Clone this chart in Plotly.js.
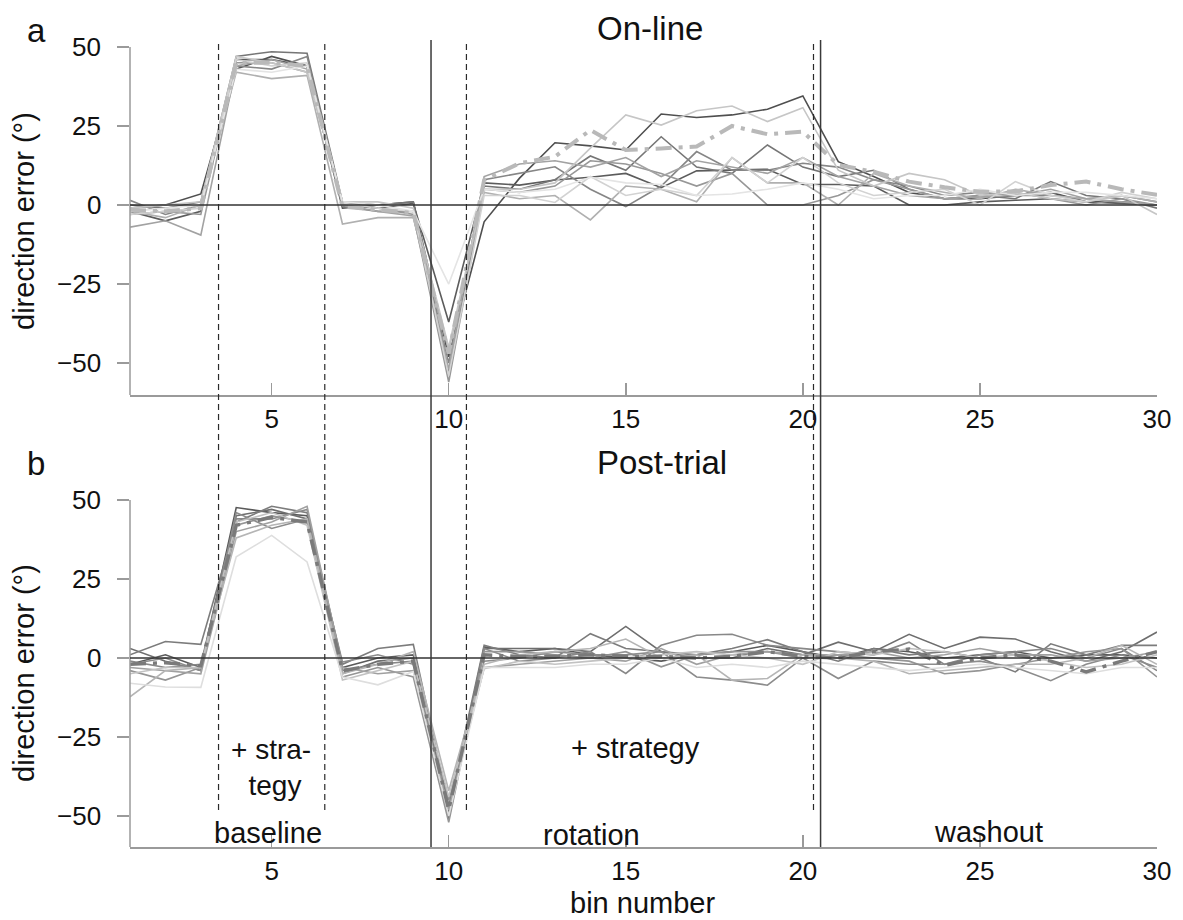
<!DOCTYPE html>
<html><head><meta charset="utf-8">
<script src="https://cdn.plot.ly/plotly-3.0.1.min.js"></script>
<style>html,body{margin:0;padding:0;background:#fff}#chart{width:1183px;height:920px}</style>
</head><body><div id="chart"></div>
<script>
const bins = [1,2,3,4,5,6,7,8,9,10,11,12,13,14,15,16,17,18,19,20,21,22,23,24,25,26,27,28,29,30];

// Panel a: On-line (individual participants + mean)
const onlineS1  = [-1,0,3.5,43,47,44,-1,0,1,-48, -5.3,8.5,19.7,18.7,17.4,28.8,27.7,28.5,30.3,34.5, 13.7,9,4,2,2,3,4,1,1,0];
const onlineS2  = [-2,-5,-2,46,46,44,0,-1,0.5,-37, 7,6.3,7.9,8.8,10,5.5,10.8,11.1,11.3,6.5, 6.5,6,0,0,1,1.5,2,1,0.5,0];
const onlineS3  = [0,-1,1,47,48.5,48,1,0,1,-53, 6,5,8,15.5,11,21.6,12,10,19,12, 9,11,5,2,3,2,7.4,3,2,-1];
const onlineS4  = [1.5,-3,0,44,43,47,-0.5,-2,-2,-50, 8,10,12.1,5,-0.5,6,16.9,11,11,13.2, 12,8,6,3,4,3,3,2,3,1];
const onlineS5  = [-3,-2,-3,45,45,42,1,-1,-3,-56, 5,4,6,14,13,10,6,10,0,0, 3,8,5,2,3,4,2,0,2,0];
const onlineS6  = [-2,-4,0,42,40,41,-6,-4,-4,-46, 4,2,3,-4.7,6,5,1,15,7,7, 0,10,6,4,2,5,3,2,3,1];
const onlineS7  = [-7,-5,-9.5,44,46,43,0,-2,-3.5,-52, 9,13,14,12,15,9,14,12,10,15, 9,6,3,2,2.5,3,5,2,1,0];
const onlineS8  = [-1,0,1,47,45,42,1,1,-1,-45, 5,5,7,18,28.5,25.3,29.8,31.3,26.4,30.8, 11,6,10,8,3,4,2,1,3,-3];
const onlineS9  = [-3,-2,-1,46,44,45,0.5,-1,-2,-54, 3,3,0.8,9,3,5,3,15,7,15, 7,3,4,5,0,7.4,3,1,4,2];
const onlineS10 = [-2,-1,0,43,42,44,1,0,-2,-25, 5,4,5,8.8,7,6.5,3,3.5,5,7, 5,2,3,3,5,3,4,4,3,2];
const onlineMean = [-1.5,-2,-1,45,45,44,-0.5,-1.5,-2.5,-47, 7.9,13.2,15.3,23.7,17.4,17.9,18.5,25,22.4,23.2, 12.7,10.5,7.4,5.6,4.2,4.3,6.3,7.4,5,3.2];

// Panel b: Post-trial
const postS1  = [-2,1,-3,47.6,46,45,-3,0,1,-49, 3.5,2,3,1,0,-1,1,2,4,2, 0,3,2,0,1,2,0,1,1,0];
const postS2  = [3,-1,-4,45,47,44,-5,-1,0,-51, 3,3,3,2,10,2,0,0,3,1, 5,2,7.5,3,6.6,6,2,-1,2,8.2];
const postS3  = [1,5.2,4.3,43,48,46,-2,3,4.3,-47, 4,1,0,7.7,3,2,1,3,5.8,2, -1,3,1,2,0,-4.4,4.5,1,4,4];
const postS4  = [-1,-3,-2,44,44,47,-4,-2,-1,-50, 3,-1,0,2,-4.9,4,7.2,7.5,4,3, 2,1,5,-2,1,2,3,0,3,-4];
const postS5  = [-4,-7,-3,42,45,43,-6,-3,-6,-52, 2,2,1,0,2,-2.8,1,2,2,0, 1,0,-1,-5,-4,-2,0,2,3,-6];
const postS6  = [-2,0,-4,46,41,44,-1.3,1,-2,-45, -1,0,2,1,1,2,-6,-7,-8.6,0, -6.5,-1,-2,-2,-1,-3,-7.2,-2,1,-3];
const postS7  = [-3,-4,-5,40,43,48,-3,-5,-4,-48, -3,-2,-1,0,-1,3,-2,1,2,1, 1,2,0,1,3,1,1,-1,0,2];
const postS8  = [-12.3,-4,-3,38,42,44,-5,-2,2,-42, -2,1,2,3,6,0,1,-7,-6.5,1, 0,-1,-5,-4,-3,-2,-2,0,4,-2];
const postS9  = [-5,-3,-3,43,46,42,-7,-4,-1,-44, -3.4,-1,-2,-1,0,1,2,1,0,-2, 2,1,3,2,0,1,-1,-3,-2,1];
const postS10 = [-8,-9.2,-9.3,32,38.8,30.4,-6,-8.5,-4.3,-50, -3,-3,-3,-2,-2,0,-3,-2,-3,-1, -2,-3,-4,-3,-2,-3,-4,-5,-3,-3];
const postMean = [-2,-1.5,-2.5,42,44.5,43,-4,-2,-1,-48, 1,0.5,0.5,1,0.5,0.5,0,0.5,2,0.5, 0,2,2.8,-2.3,0,1,-1,-4.4,-1,2];

const xTickVals = [5,10,15,20,25,30];
const yTickVals = [-50,-25,0,25,50];
const yTickText = ['\u221250','\u221225','0','25','50'];
const phaseBounds = [3.5,6.5,9.5,10.5,20.3,20.5];

const W = 1183, H = 920;
const xDom = [130/W, 1157/W];
const topDom = [1-395/H, 1-40/H];
const botDom = [1-847/H, 1-493/H];
const topRange = [-60.1, 52.2];
const botRange = [-59.8, 52.2];
const FONT = 'Liberation Sans, Arial, Helvetica, sans-serif';

const onlineSeries = [onlineS1,onlineS2,onlineS3,onlineS4,onlineS5,onlineS6,onlineS7,onlineS8,onlineS9,onlineS10];
const onlineColors = ['#4f4f4f','#5c5c5c','#767676','#868686','#979797','#b0b0b0','#a2a2a2','#c6c6c6','#d2d2d2','#e4e4e4'];
const postSeries = [postS1,postS2,postS3,postS4,postS5,postS6,postS7,postS8,postS9,postS10];
const postColors = ['#5a5a5a','#6e6e6e','#7c7c7c','#888888','#959595','#8c8c8c','#a0a0a0','#b5b5b5','#c2c2c2','#dedede'];

const traces = [];
onlineSeries.forEach((s,i)=>traces.push({x:bins,y:s,type:'scatter',mode:'lines',xaxis:'x',yaxis:'y',
  line:{color:onlineColors[i],width:1.6},hoverinfo:'skip',showlegend:false}));
traces.push({x:bins,y:onlineMean,type:'scatter',mode:'lines',xaxis:'x',yaxis:'y',
  line:{color:'#b9b9b9',width:4,dash:'16px,7px,4px,7px'},showlegend:false});
postSeries.forEach((s,i)=>traces.push({x:bins,y:s,type:'scatter',mode:'lines',xaxis:'x2',yaxis:'y2',
  line:{color:postColors[i],width:1.6},hoverinfo:'skip',showlegend:false}));
traces.push({x:bins,y:postMean,type:'scatter',mode:'lines',xaxis:'x2',yaxis:'y2',
  line:{color:'#7a7a7a',width:3.5,dash:'16px,7px,4px,7px'},showlegend:false});

function pY(v, range, dom){ return dom[0] + (v-range[0])/(range[1]-range[0])*(dom[1]-dom[0]); }

const shapes = [];
// y axis lines (from 50 down to bottom)
[[topRange,topDom],[botRange,botDom]].forEach(([r,d])=>{
  shapes.push({type:'line',xref:'paper',yref:'paper',x0:xDom[0],x1:xDom[0],y0:d[0],y1:pY(50,r,d),line:{color:'#9a9a9a',width:1.5}});
});
// zero lines
shapes.push({type:'line',xref:'x',yref:'y',x0:1,x1:30,y0:0,y1:0,layer:'above',line:{color:'#333',width:1.5}});
shapes.push({type:'line',xref:'x2',yref:'y2',x0:1,x1:30,y0:0,y1:0,layer:'above',line:{color:'#333',width:1.5}});
// phase boundaries
const topY = 1-40/H, dashBottom = 1-810/H, solidBottom = botDom[0];
phaseBounds.forEach(b=>{
  const solid = (b===9.5 || b===20.5);
  shapes.push({type:'line',xref:'x',yref:'paper',x0:b,x1:b,y0:solid?solidBottom:dashBottom,y1:topY,layer:'above',
    line:{color: solid?'#3a3a3a':'#2a2a2a',width:solid?1.5:1.2,dash:solid?'solid':'6px,4px'}});
});

function ann(text,x,y,size,extra){ return Object.assign({text:text,xref:'paper',yref:'paper',x:x/W,y:1-y/H,
  xanchor:'center',yanchor:'middle',showarrow:false,font:{family:FONT,size:size,color:'#111'}},extra||{}); }

const annotations = [
  ann('a',36,30,33), ann('b',36,463,33),
  ann('On-line',650,28,33), ann('Post-trial',662,462,33),
  ann('direction error (°)',24,221,29,{textangle:-90}),
  ann('direction error (°)',24,673,29,{textangle:-90}),
  ann('+ stra-<br> tegy',271,767,28),
  ann('+ strategy',635,748,29),
  ann('baseline',268,833,29), ann('rotation',591,835,29), ann('washout',988,832,29),
  ann('bin number',642,903,29)
];
// y tick labels, positioned on each panel's own y scale
['y','y2'].forEach(yr=>{
  yTickVals.forEach((v,i)=>annotations.push({text:yTickText[i],xref:'paper',yref:yr,x:103/W,y:v,
    xanchor:'right',yanchor:'middle',showarrow:false,font:{family:FONT,size:26,color:'#111'}}));
});

function xAx(anchor){ return {domain:xDom,range:[1,30],anchor:anchor,tickvals:xTickVals,ticks:'inside',ticklen:12,
  tickcolor:'#9a9a9a',tickwidth:1.5,showline:true,linecolor:'#9a9a9a',linewidth:1.5,showgrid:false,zeroline:false,
  tickfont:{family:FONT,size:26,color:'#111'},fixedrange:true}; }
function yAx(dom,range,anchor){ return {domain:dom,range:range,anchor:anchor,tickvals:yTickVals,ticks:'outside',ticklen:12,
  tickcolor:'#9a9a9a',tickwidth:1.5,showline:false,showgrid:false,zeroline:false,showticklabels:false,fixedrange:true}; }

const layout = {
  width:W,height:H,margin:{l:0,r:0,t:0,b:0},paper_bgcolor:'#fff',plot_bgcolor:'#fff',showlegend:false,
  xaxis:xAx('y'), yaxis:yAx(topDom,topRange,'x'),
  xaxis2:xAx('y2'), yaxis2:yAx(botDom,botRange,'x2'),
  shapes:shapes, annotations:annotations, font:{family:FONT}
};
Plotly.newPlot('chart',traces,layout,{staticPlot:true,displayModeBar:false});
</script></body></html>
